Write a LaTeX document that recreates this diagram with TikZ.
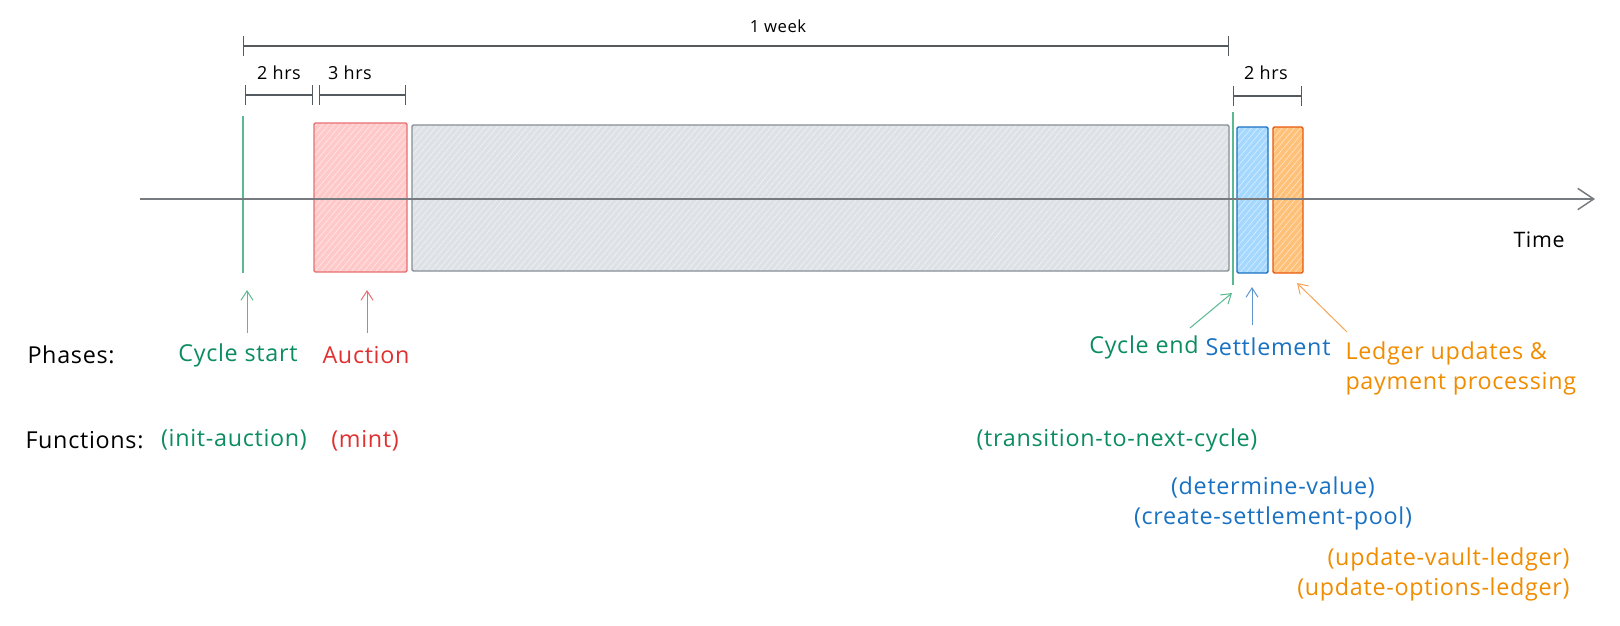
\documentclass[tikz,border=0pt]{standalone}
\usepackage{fontspec}
\setmainfont{Open Sans}[LetterSpace=3]
\usetikzlibrary{arrows.meta,patterns.meta}

\definecolor{txtgreen}{RGB}{12,140,98}
\definecolor{lngreen}{RGB}{90,185,145}
\definecolor{txtred}{RGB}{224,49,49}
\definecolor{lnred}{RGB}{232,110,112}
\definecolor{fillred}{RGB}{255,201,201}
\definecolor{txtblue}{RGB}{25,113,194}
\definecolor{lnblue}{RGB}{95,150,205}
\definecolor{fillblue}{RGB}{165,216,255}
\definecolor{txtorange}{RGB}{240,140,0}
\definecolor{lnorange}{RGB}{245,165,90}
\definecolor{edgeorange}{RGB}{232,89,12}
\definecolor{fillorange}{RGB}{255,192,120}
\definecolor{edgegray}{RGB}{134,142,150}
\definecolor{fillgray}{RGB}{222,226,230}
\definecolor{spangray}{RGB}{85,90,95}

\tikzset{every picture/.style={line width=0.75pt}}
\tikzset{
  lbl/.style={font=\fontsize{17.5}{22.5}\selectfont, inner sep=0pt},
  small lbl/.style={font=\fontsize{13.5}{15}\selectfont, inner sep=0pt},
  span/.style={draw=spangray, line width=0.9pt, {Bar[width=15pt,line width=0.9pt]}-{Bar[width=15pt,line width=0.9pt]}},
  pointer/.style={-{Straight Barb[length=7pt,width=9pt]}, line width=0.75pt},
  hatch/.style 2 args={draw=#1, line width=1pt, rounded corners=1pt,
    preaction={fill=#2},
    pattern={Lines[angle=50,distance=3.5pt,line width=0.5pt]}, pattern color=white!55!#2},
}

\begin{document}
\begin{tikzpicture}[x=0.75pt,y=0.75pt,yscale=-1,xscale=1]
	\useasboundingbox (0,0) rectangle (1620,625);

	%Shape: Rectangle [id:auction]
	\draw [hatch={lnred}{fillred}] (314,123) rectangle (407,272) ;
	%Shape: Rectangle [id:running]
	\draw [hatch={edgegray}{fillgray}] (412,125) rectangle (1229,271) ;
	%Shape: Rectangle [id:settle]
	\draw [hatch={txtblue}{fillblue}] (1237,127) rectangle (1268,273) ;
	%Shape: Rectangle [id:ledger]
	\draw [hatch={edgeorange}{fillorange}] (1273,127) rectangle (1303,273) ;

	%Straight Lines [id:cyclestart]
	\draw [lngreen, line width=1pt] (243,116) -- (243,273) ;
	%Straight Lines [id:cycleend]
	\draw [lngreen, line width=1pt] (1233,112) -- (1233,285) ;

	%Straight Lines [id:timeaxis]
	\coordinate (axis0) at (140,199) ;
	\coordinate (axis1) at (1595,199) ;
	\draw [spangray!80, line width=1.1pt, -{Straight Barb[length=12pt,width=16pt,line width=1.1pt]}] (axis0) -- (axis1) ;

	%Straight Lines [id:spans]
	\coordinate (week0) at (243,46) ;
	\coordinate (week1) at (1229,46) ;
	\draw [span] (week0) -- (week1) ;
	\coordinate (twoa0) at (245,95) ;
	\coordinate (twoa1) at (313,95) ;
	\draw [span] (twoa0) -- (twoa1) ;
	\coordinate (three0) at (319,95) ;
	\coordinate (three1) at (406,95) ;
	\draw [span] (three0) -- (three1) ;
	\coordinate (twob0) at (1233,96) ;
	\coordinate (twob1) at (1302,96) ;
	\draw [span] (twob0) -- (twob1) ;

	%Straight Lines [id:pointers]
	\coordinate (startfoot) at (247,333) ;
	\coordinate (starthead) at (247,290) ;
	\draw [pointer, lngreen] (startfoot) -- (starthead) ;
	\coordinate (aucfoot) at (367,333) ;
	\coordinate (auchead) at (367,290) ;
	\draw [pointer, lnred] (aucfoot) -- (auchead) ;
	\coordinate (endfoot) at (1190,328) ;
	\coordinate (endhead) at (1232,293) ;
	\draw [pointer, lngreen] (endfoot) -- (endhead) ;
	\coordinate (setfoot) at (1252,325) ;
	\coordinate (sethead) at (1252,287) ;
	\draw [pointer, lnblue] (setfoot) -- (sethead) ;
	\coordinate (ledfoot) at (1347,332) ;
	\coordinate (ledhead) at (1297,283) ;
	\draw [pointer, lnorange] (ledfoot) -- (ledhead) ;

	% Text Node
	\draw (778,26) node [small lbl, font=\fontsize{12.5}{14}\selectfont] (week) {1 week};
	% Text Node
	\draw (279,73) node [small lbl] (twoa) {2 hrs};
	% Text Node
	\draw (350,73) node [small lbl] (three) {3 hrs};
	% Text Node
	\draw (1266,73) node [small lbl] (twob) {2 hrs};
	% Text Node
	\draw (1539,240) node [lbl, font=\fontsize{16}{18}\selectfont] (time) {Time};

	% Text Node
	\draw (27,355) node [lbl, anchor=west] (phases) {Phases:};
	% Text Node
	\draw (25,440) node [lbl, anchor=west] (funcs) {Functions:};
	% Text Node
	\draw (238,355) node [lbl, txtgreen] (start) {Cycle start};
	% Text Node
	\draw (366,355) node [lbl, txtred] (auc) {Auction};
	% Text Node
	\draw (234,440) node [lbl, txtgreen] (init) {(init-auction)};
	% Text Node
	\draw (365,441) node [lbl, txtred] (mint) {(mint)};
	% Text Node
	\draw (1144,347) node [lbl, txtgreen] (cend) {Cycle end};
	% Text Node
	\draw (1268,347) node [lbl, txtblue] (settle) {Settlement};
	% Text Node
	\draw (1345,368) node [lbl, txtorange, anchor=west, align=left] (ledger) {Ledger updates \&\\payment processing};
	% Text Node
	\draw (1117,440) node [lbl, txtgreen] (trans) {(transition-to-next-cycle)};
	% Text Node
	\draw (1273,503) node [lbl, txtblue, align=center] (detval) {(determine-value)\\(create-settlement-pool)};
	% Text Node
	\draw (1570,574) node [lbl, txtorange, anchor=east, align=right] (upd) {(update-vault-ledger)\\(update-options-ledger)};

\end{tikzpicture}
\end{document}
